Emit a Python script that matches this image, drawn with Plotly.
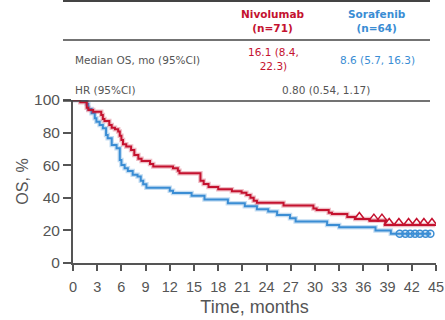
import plotly.graph_objects as go

# ---- data ----
niv_t = [0, 0.9, 1.7, 1.9, 2.5, 3.5, 3.7, 3.9, 4.5, 4.8, 5.2, 5.6, 5.8, 6.0, 6.2, 6.6, 7.2, 7.6, 8.1, 8.5,
         9.55, 9.95, 12.4, 13.0, 13.2, 15.8, 16.2, 16.8, 18.0, 19.7, 20.9, 21.5, 22.0, 22.4, 22.8, 26.1,
         29.8, 30.2, 31.7, 32.1, 34.0, 35.0, 36.8, 38.7, 44.9]
niv_s = [100, 98.6, 95.3, 93.9, 92.8, 90.8, 88.3, 87.1, 84.7, 83.0, 82.0, 80.6, 78.1, 75.5, 72.8, 71.4,
         69.3, 66.3, 64.0, 62.6, 60.7, 59.2, 58.1, 56.6, 55.0, 50.5, 48.5, 46.6, 45.2, 44.0, 43.1, 41.7,
         40.1, 38.2, 37.0, 35.2, 33.5, 32.5, 30.9, 30.1, 28.2, 27.0, 26.0, 23.3, 23.3]
niv_cens = [35.5, 37.3, 38.3, 39.2, 40.4, 41.6, 42.6, 43.5, 44.5]

sor_t = [0, 1.7, 1.9, 2.3, 2.7, 2.9, 3.3, 3.7, 4.1, 4.3, 4.8, 5.4, 5.8, 6.0, 6.4, 6.8, 7.4, 8.0, 8.4, 8.7,
         9.1, 12.0, 12.4, 14.7, 16.3, 19.2, 21.3, 22.8, 24.2, 25.3, 26.9, 27.6, 31.5, 33.0, 37.5, 39.4, 44.4]
sor_s = [100, 97.5, 94.5, 91.8, 88.8, 86.7, 84.7, 82.6, 78.5, 76.5, 72.4, 70.4, 63.2, 60.1, 58.1, 56.4,
         54.2, 53.0, 50.5, 48.3, 46.2, 44.4, 43.0, 41.3, 39.0, 36.6, 34.8, 33.0, 31.6, 29.5, 27.4, 25.4,
         23.3, 21.9, 20.0, 18.0, 18.0]
sor_cens = [40.5, 41.2, 41.8, 42.4, 43.0, 43.7, 44.3]

x_ticks = list(range(0, 46, 3))
y_ticks = [0, 20, 40, 60, 80, 100]

groups = ["Nivolumab<br>(n=71)", "Sorafenib<br>(n=64)"]
row_labels = ["Median OS, mo (95%CI)", "HR (95%CI)"]
median_os = ["16.1 (8.4,<br>22.3)", "8.6 (5.7, 16.3)"]
hr_text = "0.80 (0.54, 1.17)"

RED = "#c4122f"
BLUE = "#3a8dd4"
GRAY = "#555555"


def step_at(ts, ss, t):
    v = ss[0]
    for ti, si in zip(ts, ss):
        if ti <= t:
            v = si
    return v


fig = go.Figure()
for ts, ss, col, shade in [(sor_t, sor_s, BLUE, "rgba(58,141,212,0.30)"),
                           (niv_t, niv_s, RED, "rgba(196,18,47,0.28)")]:
    fig.add_trace(go.Scatter(x=ts, y=ss, mode="lines", line=dict(color=shade, width=4.5, shape="hv"),
                             hoverinfo="skip", showlegend=False))
    fig.add_trace(go.Scatter(x=ts, y=ss, mode="lines", line=dict(color=col, width=2, shape="hv"),
                             showlegend=False))

fig.add_trace(go.Scatter(x=sor_cens, y=[step_at(sor_t, sor_s, t) for t in sor_cens], mode="markers",
                         marker=dict(symbol="circle-open", size=7, color=BLUE, line=dict(width=1.5)),
                         showlegend=False))
fig.add_trace(go.Scatter(x=niv_cens, y=[step_at(niv_t, niv_s, t) + 1.2 for t in niv_cens], mode="markers",
                         marker=dict(symbol="triangle-up-open", size=9, color=RED, line=dict(width=1.5)),
                         showlegend=False))

# plot area in pixels
L, R, T, B = 73, 436, 100, 263
W, H = 445, 320


def px(x):
    return (x - L) / (R - L)


def py(y):
    return (B - y) / (B - T)


tfont = "DejaVu Sans"
TS = 10.5
ann = []
ann.append(dict(x=px(273), y=py(21), text="<b>" + groups[0] + "</b>", font=dict(color=RED, size=TS, family=tfont)))
ann.append(dict(x=px(377), y=py(21), text="<b>" + groups[1] + "</b>", font=dict(color=BLUE, size=TS, family=tfont)))
ann.append(dict(x=px(73), y=py(60), text=row_labels[0], xanchor="left", font=dict(color=GRAY, size=TS, family=tfont)))
ann.append(dict(x=px(273), y=py(59), text=median_os[0], font=dict(color=RED, size=TS, family=tfont)))
ann.append(dict(x=px(377), y=py(60), text=median_os[1], font=dict(color=BLUE, size=TS, family=tfont)))
ann.append(dict(x=px(73), y=py(90), text=row_labels[1], xanchor="left", font=dict(color=GRAY, size=TS, family=tfont)))
ann.append(dict(x=px(326), y=py(90), text=hr_text, font=dict(color=GRAY, size=TS, family=tfont)))
for a in ann:
    a.update(xref="paper", yref="paper", showarrow=False, yanchor="middle", align="center")
    a.setdefault("xanchor", "center")

shapes = []
for yy, w in [(1, 2), (40, 1.5), (101, 1.5)]:
    shapes.append(dict(type="line", xref="paper", yref="paper", x0=px(63), x1=px(430), y0=py(yy), y1=py(yy),
                       line=dict(color="#444444", width=w)))

fig.update_layout(
    width=W, height=H,
    margin=dict(l=L, r=W - R, t=T, b=H - B, pad=0),
    paper_bgcolor="white", plot_bgcolor="white",
    font=dict(family="Liberation Sans, Arial, sans-serif", color=GRAY),
    annotations=ann, shapes=shapes,
    xaxis=dict(range=[0, 45], tickvals=x_ticks, ticktext=[str(v) for v in x_ticks], automargin=False,
               showgrid=False, zeroline=False, showline=True, linecolor=GRAY, linewidth=2,
               ticks="outside", ticklen=6, tickwidth=2, tickcolor=GRAY, ticklabelstandoff=4,
               tickfont=dict(size=14.5, color=GRAY),
               title=dict(text="Time, months", font=dict(size=18, color=GRAY), standoff=6)),
    yaxis=dict(range=[0, 100], tickvals=y_ticks, ticktext=[str(v) for v in y_ticks], automargin=False,
               showgrid=False, zeroline=False, showline=True, linecolor=GRAY, linewidth=2,
               ticks="outside", ticklen=8, tickwidth=2, tickcolor=GRAY,
               tickfont=dict(size=15.5, color=GRAY),
               title=dict(text="OS, %", font=dict(size=16, color=GRAY), standoff=1)),
)

fig.write_html("out.html", config={"displayModeBar": False},
               post_script="document.body.style.margin='0';document.body.style.overflow='hidden';")
